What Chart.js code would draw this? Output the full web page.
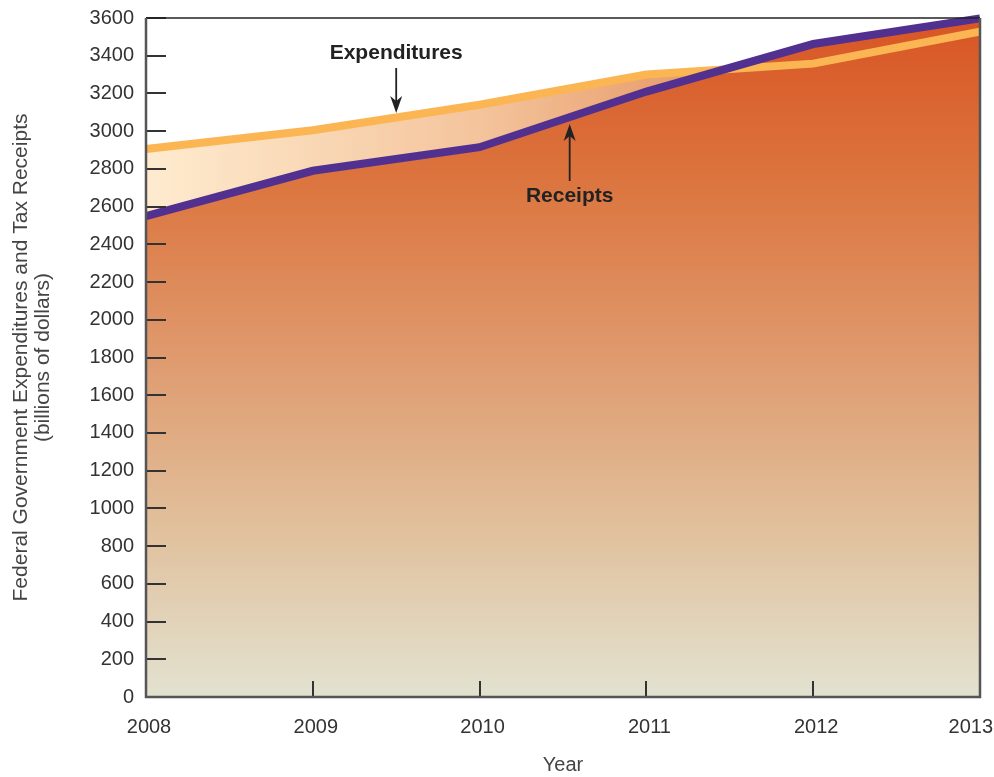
<!DOCTYPE html>
<html>
<head>
<meta charset="utf-8">
<script src="https://cdn.jsdelivr.net/npm/chart.js@4/dist/chart.umd.min.js"></script>
<style>
  html, body { margin: 0; padding: 0; background: #fff; }
  #wrap { width: 994px; height: 777px; }
</style>
</head>
<body>
<div id="wrap"><canvas id="budgetChart" width="994" height="777"></canvas></div>
<script>
// data (billions of dollars)
const years = ['2008', '2009', '2010', '2011', '2012', '2013'];
const expenditures = [2905, 3005, 3140, 3300, 3358, 3528];
const receipts = [2550, 2790, 2915, 3210, 3462, 3598];
const yTicks = [0, 200, 400, 600, 800, 1000, 1200, 1400, 1600, 1800, 2000, 2200, 2400, 2600, 2800, 3000, 3200, 3400, 3600];

// annotation anchors in data units (x = category index, y = value)
const notes = [
  { text: 'Expenditures', x: 1.5, y: 3414, from: 3335, to: 3096 },
  { text: 'Receipts', x: 2.54, y: 2656, from: 2736, to: 3038 }
];

const FONT = '"Liberation Sans", Arial, sans-serif';

function receiptsFill(context) {
  const area = context.chart.chartArea;
  if (!area) return '#dd8050';
  const g = context.chart.ctx.createLinearGradient(0, area.top, 0, area.bottom);
  g.addColorStop(0, '#d85524');
  g.addColorStop(0.25, '#dc7640');
  g.addColorStop(0.5, '#df9a6e');
  g.addColorStop(0.75, '#e1c09c');
  g.addColorStop(1, '#e2e2d0');
  return g;
}

function deficitFill(context) {
  const area = context.chart.chartArea;
  if (!area) return '#f5c8a0';
  const g = context.chart.ctx.createLinearGradient(area.left, 0, area.right, 0);
  g.addColorStop(0, '#feebcf');
  g.addColorStop(0.4, '#f4c49c');
  g.addColorStop(0.6, '#eaa474');
  g.addColorStop(1, '#df7e4c');
  return g;
}

const frame = {
  id: 'frame',
  afterDraw(chart) {
    const { ctx, chartArea: a, scales: { x, y } } = chart;
    ctx.save();
    // inward tick marks
    ctx.strokeStyle = '#333';
    ctx.lineWidth = 2;
    yTicks.forEach(v => {
      const py = Math.round(y.getPixelForValue(v));
      ctx.beginPath();
      ctx.moveTo(a.left, py);
      ctx.lineTo(a.left + 20, py);
      ctx.stroke();
    });
    years.forEach((_, i) => {
      const px = Math.round(x.getPixelForValue(i));
      ctx.beginPath();
      ctx.moveTo(px, a.bottom);
      ctx.lineTo(px, a.bottom - 16);
      ctx.stroke();
    });
    // box
    ctx.strokeStyle = '#222';
    ctx.lineWidth = 1.5;
    ctx.beginPath();
    ctx.moveTo(a.left, a.top);
    ctx.lineTo(a.right, a.top);
    ctx.stroke();
    ctx.strokeStyle = '#555';
    ctx.lineWidth = 2.5;
    ctx.beginPath();
    ctx.moveTo(a.left, a.top);
    ctx.lineTo(a.left, a.bottom);
    ctx.lineTo(a.right, a.bottom);
    ctx.lineTo(a.right, a.top);
    ctx.stroke();

    // x labels (last one kept inside the canvas)
    ctx.fillStyle = '#333';
    ctx.font = '20px ' + FONT;
    ctx.textAlign = 'center';
    ctx.textBaseline = 'middle';
    years.forEach((yr, i) => {
      const w = ctx.measureText(yr).width;
      let px = x.getPixelForValue(i) + 3;
      px = Math.min(px, chart.width - w / 2 - 1);
      ctx.fillText(yr, px, a.bottom + 30);
    });

    // annotations with arrows
    ctx.fillStyle = '#222';
    ctx.strokeStyle = '#222';
    ctx.font = 'bold 21px ' + FONT;
    notes.forEach(n => {
      const px = x.getPixelForValue(n.x);
      ctx.fillText(n.text, px, y.getPixelForValue(n.y));
      const y0 = y.getPixelForValue(n.from);
      const y1 = y.getPixelForValue(n.to);
      const dir = y1 > y0 ? 1 : -1;
      ctx.lineWidth = 1.8;
      ctx.beginPath();
      ctx.moveTo(px, y0);
      ctx.lineTo(px, y1 - dir * 8);
      ctx.stroke();
      ctx.beginPath();
      ctx.moveTo(px, y1);
      ctx.lineTo(px - 6, y1 - dir * 17);
      ctx.lineTo(px, y1 - dir * 12);
      ctx.lineTo(px + 6, y1 - dir * 17);
      ctx.closePath();
      ctx.fill();
    });
    ctx.restore();
  }
};

new Chart(document.getElementById('budgetChart').getContext('2d'), {
  type: 'line',
  data: {
    labels: years,
    datasets: [
      {
        label: 'Receipts',
        data: receipts,
        borderColor: '#52308f',
        borderWidth: 8,
        backgroundColor: receiptsFill,
        fill: 'origin',
        pointRadius: 0,
        tension: 0,
        clip: false
      },
      {
        label: 'Expenditures',
        data: expenditures,
        borderColor: '#fbb653',
        borderWidth: 8,
        fill: { target: 0, above: deficitFill, below: 'rgba(0,0,0,0)' },
        pointRadius: 0,
        tension: 0,
        clip: false
      }
    ]
  },
  options: {
    responsive: false,
    animation: false,
    layout: { padding: { top: 18, right: 14, left: 0, bottom: 0 } },
    plugins: {
      legend: { display: false },
      tooltip: { enabled: false },
      filler: { drawTime: 'beforeDatasetsDraw' }
    },
    scales: {
      x: {
        type: 'category',
        offset: false,
        grid: { display: false, drawTicks: false },
        border: { display: false },
        ticks: { display: false },
        title: {
          display: true,
          text: 'Year',
          color: '#444',
          font: { family: FONT, size: 20 },
          padding: { top: 0, bottom: 0 }
        },
        afterFit(scale) { scale.height = 80; scale.paddingLeft = 0; scale.paddingRight = 0; }
      },
      y: {
        min: 0,
        max: 3600,
        grid: { display: false, drawTicks: false },
        border: { display: false },
        ticks: {
          stepSize: 200,
          padding: 12,
          color: '#333',
          font: { family: FONT, size: 20 },
          callback: v => String(v)
        },
        title: {
          display: true,
          text: ['Federal Government Expenditures and Tax Receipts', '(billions of dollars)'],
          color: '#444',
          font: { family: FONT, size: 21, lineHeight: 1.05 },
          padding: { top: 10, bottom: 0 }
        },
        afterFit(scale) { scale.width = 146; scale.paddingTop = 0; scale.paddingBottom = 0; }
      }
    }
  },
  plugins: [frame]
});
</script>
</body>
</html>
